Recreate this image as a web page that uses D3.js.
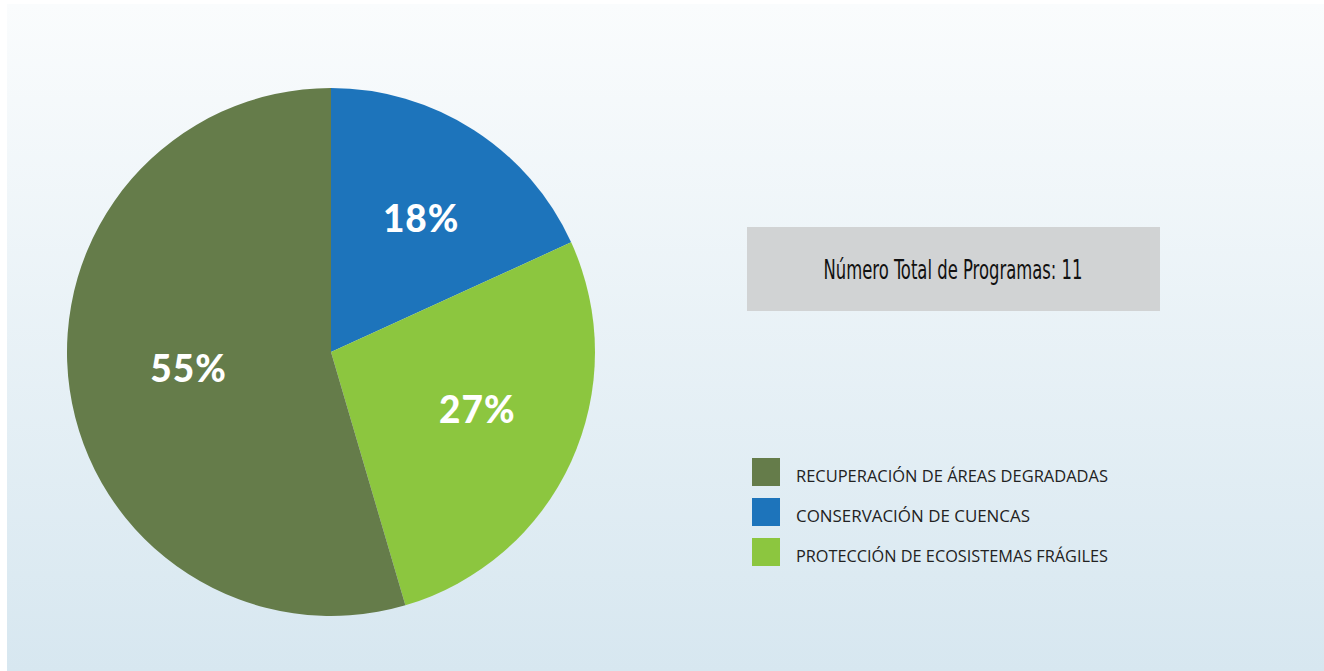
<!DOCTYPE html>
<html>
<head>
<meta charset="utf-8">
<script src="https://cdn.jsdelivr.net/npm/d3@7"></script>
<style>
html,body{margin:0;padding:0;background:#fff;}
svg{display:block;}
</style>
</head>
<body>
<svg id="chart" width="1324" height="671"></svg>
<script>
//data
var categories=["RECUPERACIÓN DE ÁREAS DEGRADADAS","CONSERVACIÓN DE CUENCAS","PROTECCIÓN DE ECOSISTEMAS FRÁGILES"];
var counts=[6,2,3];
var labels=["55%","18%","27%"];
var colors=["#657c4a","#1d74bb","#8cc63f"];
var pieOrder=[1,2,0]; // clockwise from 12 o'clock: blue, light green, dark green
var totalText="Número Total de Programas: 11";

var svg=d3.select("#chart");
var W=1324,H=671;

//background panel
var defs=svg.append("defs");
var grad=defs.append("linearGradient").attr("id","bg").attr("x1",0).attr("y1",0).attr("x2",0).attr("y2",1);
grad.append("stop").attr("offset","0%").attr("stop-color","#fafcfd");
grad.append("stop").attr("offset","100%").attr("stop-color","#d7e7f0");
svg.append("rect").attr("x",7).attr("y",4).attr("width",W-7).attr("height",H-4).attr("fill","url(#bg)");

//pie
var cx=331,cy=352,r=264;
var slices=pieOrder.map(function(i){return {i:i,value:counts[i]};});
var pie=d3.pie().sort(null).value(function(d){return d.value;});
var arc=d3.arc().innerRadius(0).outerRadius(r);
var labelArc=d3.arc().innerRadius(152).outerRadius(152);
var g=svg.append("g").attr("transform","translate("+cx+","+cy+")");
var arcs=pie(slices);
g.selectAll("path").data(arcs).enter().append("path")
    .attr("d",arc)
    .attr("fill",function(d){return colors[d.data.i];});
g.selectAll("text").data(arcs).enter().append("text")
    .attr("transform",function(d){var c=labelArc.centroid(d);return "translate("+(c[0]+8)+","+(c[1]+8)+")";})
    .attr("text-anchor","middle")
    .attr("font-family","Lato, 'Open Sans', sans-serif")
    .attr("font-weight",900)
    .attr("font-size",37)
    .attr("letter-spacing",1)
    .attr("fill","#fff")
    .text(function(d){return labels[d.data.i];});

//total box
svg.append("rect").attr("x",747).attr("y",227).attr("width",413).attr("height",84).attr("fill","#d1d3d4");
svg.append("text").attr("x",953).attr("y",279)
    .attr("text-anchor","middle")
    .attr("font-family","'Liberation Sans Narrow','DejaVu Sans Condensed',sans-serif")
    .attr("font-stretch","condensed")
    .attr("font-size",26)
    .attr("textLength",259).attr("lengthAdjust","spacingAndGlyphs")
    .attr("fill","#111")
    .text(totalText);

//legend
var legend=svg.append("g").attr("transform","translate(752,458)");
var item=legend.selectAll("g").data(categories).enter().append("g")
    .attr("transform",function(d,i){return "translate(0,"+(i*40)+")";});
item.append("rect").attr("width",28).attr("height",28).attr("fill",function(d,i){return colors[i];});
item.append("text").attr("x",44).attr("y",24)
    .attr("font-family","'Open Sans','DejaVu Sans',sans-serif")
    .attr("font-size",17)
    .attr("fill","#222")
    .text(function(d){return d;})
    .each(function(d){
        var target=d==categories[1]?234:312;
        d3.select(this).attr("textLength",target).attr("lengthAdjust","spacingAndGlyphs");
    });
</script>
</body>
</html>
